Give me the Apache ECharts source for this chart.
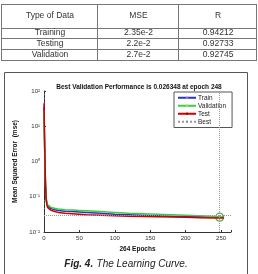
<!DOCTYPE html>
<html>
<head>
<meta charset="utf-8">
<script src="https://cdn.jsdelivr.net/npm/echarts@6/dist/echarts.min.js"></script>
<style>
html, body { margin: 0; padding: 0; background: #fff; }
#main { width: 258px; height: 274px; }
</style>
</head>
<body>
<div id="main"></div>
<script>
// table
var tableHeader = ['Type of Data', 'MSE', 'R'];
var tableTypes = ['Training', 'Testing', 'Validation'];
var tableMse = ['2.35e-2', '2.2e-2', '2.7e-2'];
var tableR = ['0.94212', '0.92733', '0.92745'];

// learning curve
var epochs   = [0, 1, 2, 3, 4, 5, 7, 10, 15, 20, 30, 40, 50, 60, 80, 100, 120, 140, 160, 180, 200, 220, 240, 248, 254];
var trainMse = [35, 2.0, 0.25, 0.09, 0.065, 0.056, 0.05, 0.046, 0.043, 0.041, 0.039, 0.038, 0.037, 0.036, 0.034, 0.032, 0.031, 0.030, 0.029, 0.028, 0.0275, 0.027, 0.0265, 0.026, 0.026];
var valMse   = [28, 1.8, 0.22, 0.095, 0.07, 0.06, 0.054, 0.05, 0.047, 0.045, 0.043, 0.042, 0.041, 0.040, 0.038, 0.036, 0.034, 0.033, 0.032, 0.031, 0.030, 0.029, 0.0275, 0.026348, 0.0265];
var testMse  = [45, 2.5, 0.3, 0.085, 0.06, 0.05, 0.045, 0.041, 0.038, 0.036, 0.034, 0.033, 0.032, 0.031, 0.030, 0.029, 0.028, 0.0275, 0.027, 0.0265, 0.026, 0.0255, 0.025, 0.025, 0.025];
var bestEpoch = 248;
var bestPerf = 0.026348;
var totalEpochs = 264;
var yTickLabels = { '-2': '10\u207B\u00B2', '-1': '10\u207B\u00B9', '0': '10\u2070', '1': '10\u00B9', '2': '10\u00B2' };

function pairs(ys) {
	return epochs.map(function (e, i) { return [e, ys[i]]; });
}

var font = 'Liberation Sans, Arial, sans-serif';
var colX = [1, 97, 178, 256];
var rowY = [4, 28, 38, 49, 60];
var rowMid = [16, 33, 43.5, 54.5];
var graphics = [];

// table grid
colX.forEach(function (x) {
	graphics.push({ type: 'line', shape: { x1: x + 0.5, y1: rowY[0], x2: x + 0.5, y2: rowY[4] + 1 }, style: { stroke: '#777', lineWidth: 1 } });
});
rowY.forEach(function (y) {
	graphics.push({ type: 'line', shape: { x1: colX[0], y1: y + 0.5, x2: colX[3] + 1, y2: y + 0.5 }, style: { stroke: '#777', lineWidth: 1 } });
});
function cell(txt, col, row) {
	graphics.push({
		type: 'text', z: 10, x: (colX[col] + colX[col + 1]) / 2 + 1, y: rowMid[row],
		style: { text: txt, fill: '#333', font: '8.5px ' + font, textAlign: 'center', textVerticalAlign: 'middle' }
	});
}
tableHeader.forEach(function (t, c) { cell(t, c, 0); });
tableTypes.forEach(function (t, r) {
	cell(t, 0, r + 1);
	cell(tableMse[r], 1, r + 1);
	cell(tableR[r], 2, r + 1);
});

// figure frame and caption
graphics.push({ type: 'rect', shape: { x: 4.5, y: 72.5, width: 243, height: 220 }, style: { fill: 'none', stroke: '#555', lineWidth: 1 } });
graphics.push({
	type: 'text', x: 126, y: 264,
	style: {
		text: '{b|Fig. 4.} {i|The Learning Curve.}',
		textAlign: 'center', textVerticalAlign: 'middle',
		rich: {
			b: { font: 'italic bold 10px ' + font, fill: '#222' },
			i: { font: 'italic 10px ' + font, fill: '#222' }
		}
	}
});

var option = {
	animation: false,
	textStyle: { fontFamily: font },
	title: {
		text: 'Best Validation Performance is ' + bestPerf + ' at epoch ' + bestEpoch,
		left: 134, top: 79, textAlign: 'center',
		textStyle: { fontSize: 6.5, fontWeight: 'bold', color: '#111' }
	},
	legend: {
		data: ['Train', 'Validation', 'Test', 'Best'],
		orient: 'vertical',
		left: 174, top: 92,
		itemWidth: 18, itemHeight: 3, itemGap: 0.5,
		padding: [2, 6, 2, 3],
		borderColor: '#555', borderWidth: 1,
		backgroundColor: '#fff',
		textStyle: { fontSize: 6.5, lineHeight: 7.5, color: '#222', padding: [0, 0, 0, -3] }
	},
	grid: { left: 44, top: 91, width: 187, height: 141 },
	xAxis: {
		type: 'value', min: 0, max: totalEpochs, interval: 50,
		name: totalEpochs + ' Epochs', nameLocation: 'middle', nameGap: 13,
		nameTextStyle: { fontSize: 6.5, fontWeight: 'bold', color: '#111' },
		axisLine: { lineStyle: { color: '#333' } },
		axisTick: { inside: true, length: 2, lineStyle: { color: '#333' } },
		axisLabel: {
			fontSize: 6, color: '#333', margin: 3,
			formatter: function (v) { return v % 50 === 0 ? String(v) : ''; }
		},
		splitLine: { show: false }
	},
	yAxis: {
		type: 'log', logBase: 10, min: 0.01, max: 100,
		name: 'Mean Squared Error  (mse)', nameLocation: 'middle', nameGap: 20,
		nameTextStyle: { fontSize: 6.5, fontWeight: 'bold', color: '#111' },
		axisLine: { show: true, lineStyle: { color: '#333' } },
		axisTick: { inside: true, length: 2, lineStyle: { color: '#333' } },
		minorTick: { show: true, splitNumber: 5, length: 1, lineStyle: { color: '#666' } },
		axisLabel: {
			fontSize: 6, color: '#333', margin: 4,
			formatter: function (v) { return yTickLabels[String(Math.round(Math.log10(v)))] || ''; }
		},
		splitLine: { show: false }
	},
	series: [
		{ name: 'Train', type: 'line', data: pairs(trainMse), symbol: 'none', lineStyle: { color: '#3030c8', width: 1.5 }, itemStyle: { color: '#7f7fe6' } },
		{ name: 'Validation', type: 'line', data: pairs(valMse), symbol: 'none', lineStyle: { color: '#3fcc3f', width: 1.5 }, itemStyle: { color: '#80e080' } },
		{ name: 'Test', type: 'line', data: pairs(testMse), symbol: 'none', lineStyle: { color: '#cc0000', width: 1.5 }, itemStyle: { color: '#b00000' } },
		{
			name: 'Best', type: 'line', data: [[bestEpoch, bestPerf]], symbol: 'none',
			lineStyle: { color: '#999', width: 1, type: 'dotted' }, itemStyle: { color: '#999' },
			markLine: {
				silent: true, symbol: ['none', 'none'], label: { show: false },
				lineStyle: { color: '#999', width: 1, type: 'dotted' },
				data: [{ xAxis: bestEpoch }, { yAxis: bestPerf }]
			}
		},
		{
			name: 'BestPoint', type: 'scatter', data: [[bestEpoch, bestPerf]],
			symbol: 'circle', symbolSize: 8,
			itemStyle: { color: 'rgba(0,0,0,0)', borderColor: '#2a9a2a', borderWidth: 1.2 }
		}
	],
	graphic: graphics
};
var myChart = echarts.init(document.getElementById('main'));
myChart.setOption(option);
</script>
</body>
</html>
